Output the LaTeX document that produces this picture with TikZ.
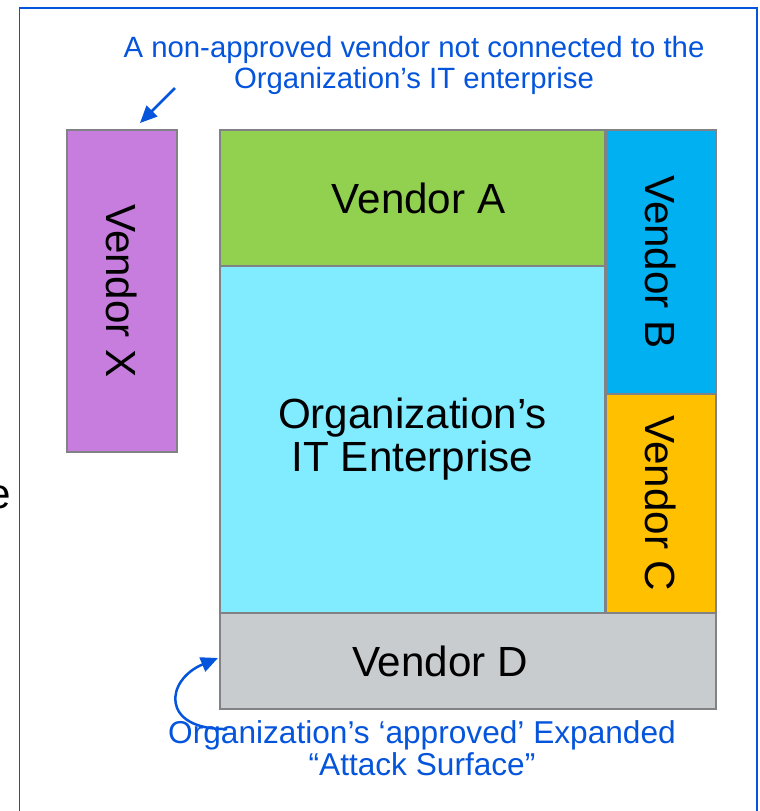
\documentclass[tikz,border=0pt]{standalone}
\usepackage{fontspec}
\setmainfont{Liberation Sans}
\usetikzlibrary{arrows.meta}
\definecolor{vendorx}{RGB}{199,125,221}
\definecolor{vendora}{RGB}{146,208,80}
\definecolor{orgit}{RGB}{129,235,255}
\definecolor{vendorb}{RGB}{0,176,240}
\definecolor{vendorc}{RGB}{255,192,0}
\definecolor{vendord}{RGB}{201,204,207}
\definecolor{edgegray}{RGB}{128,130,133}
\definecolor{noteblue}{RGB}{5,85,220}
\tikzset{
  vbox/.style={draw=edgegray, line width=0.04cm, rectangle, align=center, inner sep=0pt,
    font=\fontsize{24}{24.5}\selectfont},
  note/.style={text=noteblue, align=center, inner sep=0pt, font=\fontsize{16.7}{17.6}\selectfont},
  pointer/.style={-{Triangle[length=0.34cm,width=0.3cm]}, draw=noteblue, line width=0.05cm}
}
\begin{document}
\begin{tikzpicture}[x=1cm,y=1cm]
\useasboundingbox (0,0) rectangle (15.18,-16.22);
\draw[noteblue, line width=0.03cm] (0.39,-0.16) rectangle (15.14,-16.6);
\node[anchor=east, inner sep=0pt, font=\fontsize{24}{24.5}\selectfont] (cut) at (0.22,-9.94) {e};
\node[vbox, fill=vendorx, rotate=-90, minimum width=6.44cm, minimum height=2.2cm] (vx) at (2.44,-5.82) {Vendor X};
\node[vbox, fill=vendora, minimum width=7.7cm, minimum height=2.72cm] (va) at (8.25,-3.96) {\hspace*{0.24cm}Vendor A};
\node[vbox, fill=orgit, minimum width=7.7cm, minimum height=6.94cm] (org) at (8.25,-8.79) {\raisebox{0.16cm}{Organization’s}\\\raisebox{0.16cm}{IT Enterprise}};
\node[vbox, fill=vendorb, rotate=-90, minimum width=5.28cm, minimum height=2.2cm] (vb) at (13.22,-5.24) {Vendor B};
\node[vbox, fill=vendorc, rotate=-90, minimum width=4.38cm, minimum height=2.2cm] (vc) at (13.22,-10.07) {Vendor C};
\node[vbox, fill=vendord, minimum width=9.92cm, minimum height=1.92cm] (vd) at (9.36,-13.22) {\hspace*{-1.12cm}Vendor D};
\node[note] (nonapp) at (8.28,-1.3) {A non-approved vendor not connected to the\\Organization’s IT enterprise};
\node[note, font=\fontsize{18}{18.3}\selectfont] (surface) at (8.44,-14.96) {Organization’s ‘approved’ Expanded\\“Attack Surface”};
\coordinate (xfrom) at (3.5,-1.76);
\coordinate (xto) at (2.8,-2.46);
\coordinate (sfrom) at (4.54,-14.58);
\coordinate (sto) at (4.36,-13.16);
\draw[pointer] (xfrom) -- (xto);
\draw[pointer] (sfrom) .. controls (3.2,-14.6) and (3.3,-13.6) .. (sto);
\end{tikzpicture}
\end{document}
